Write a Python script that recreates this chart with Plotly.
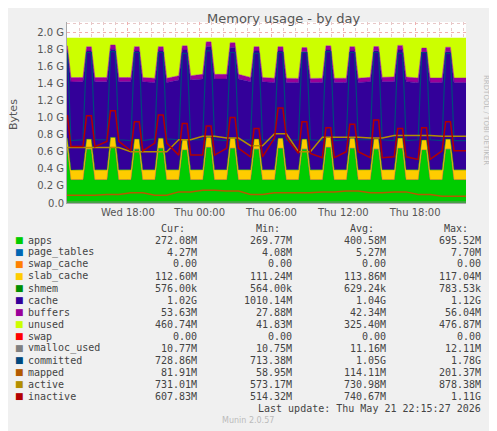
import pandas as pd
import plotly.graph_objects as go

# spike times (every ~2h)
peaks = ["2026-05-20 12:45", "2026-05-20 14:45", "2026-05-20 16:45", "2026-05-20 18:45",
         "2026-05-20 20:45", "2026-05-20 22:45", "2026-05-21 00:45", "2026-05-21 02:45",
         "2026-05-21 04:45", "2026-05-21 06:45", "2026-05-21 08:45", "2026-05-21 10:45",
         "2026-05-21 12:45", "2026-05-21 14:45", "2026-05-21 16:45", "2026-05-21 18:45",
         "2026-05-21 20:45"]
t_start = "2026-05-20 12:55"
t_end = "2026-05-21 22:15"

# values in G, per cycle: [base, peak]
apps_base = [0.27, 0.27, 0.27, 0.27, 0.27, 0.27, 0.27, 0.27, 0.27, 0.27, 0.27, 0.27, 0.27, 0.27, 0.27, 0.27, 0.27]
apps_peak = [0.64, 0.63, 0.65, 0.63, 0.64, 0.62, 0.65, 0.64, 0.63, 0.64, 0.63, 0.65, 0.64, 0.63, 0.64, 0.62, 0.63]
page_tables = [0.004] * 17
slab_cache = [0.112, 0.113, 0.113, 0.114, 0.114, 0.114, 0.115, 0.115, 0.114, 0.114, 0.113, 0.114, 0.114, 0.115, 0.115, 0.113, 0.113]
shmem = [0.0006] * 17
cache = [1.03, 1.03, 1.03, 1.03, 1.02, 1.05, 1.06, 1.06, 1.03, 1.02, 1.02, 1.02, 1.02, 1.03, 1.03, 1.02, 1.02]
buffers = [0.05, 0.05, 0.05, 0.05, 0.05, 0.05, 0.055, 0.055, 0.05, 0.05, 0.05, 0.05, 0.05, 0.05, 0.054, 0.054, 0.054]
total_mem = 1.93

committed_base = [0.73, 0.74, 0.74, 0.73, 0.75, 0.74, 0.74, 0.73, 0.74, 0.73, 0.74, 0.73, 0.74, 0.74, 0.73, 0.74, 0.73]
committed_peak = [1.75, 1.76, 1.77, 1.76, 1.76, 1.75, 1.78, 1.76, 1.75, 1.76, 1.76, 1.77, 1.76, 1.76, 1.75, 1.76, 1.75]
inactive_base = [0.66, 0.66, 0.72, 0.61, 0.70, 0.56, 0.56, 0.64, 0.54, 0.76, 0.58, 0.53, 0.60, 0.53, 0.54, 0.51, 0.61]
inactive_peak = [1.02, 1.02, 1.08, 0.95, 1.03, 0.93, 0.90, 1.00, 0.87, 1.11, 0.95, 0.88, 0.92, 0.97, 0.87, 0.88, 0.95]
active = [0.65, 0.65, 0.65, 0.60, 0.60, 0.74, 0.78, 0.76, 0.67, 0.81, 0.60, 0.77, 0.77, 0.76, 0.79, 0.79, 0.78]
mapped = [0.09, 0.09, 0.10, 0.12, 0.09, 0.13, 0.15, 0.14, 0.10, 0.12, 0.12, 0.13, 0.14, 0.12, 0.13, 0.10, 0.08]
vmalloc = [0.011] * 17

legend = [
    ("apps", "#00CC00", "272.08M", "269.77M", "400.58M", "695.52M"),
    ("page_tables", "#0066B3", "4.27M", "4.08M", "5.27M", "7.70M"),
    ("swap_cache", "#FF8000", "0.00", "0.00", "0.00", "0.00"),
    ("slab_cache", "#FFCC00", "112.60M", "111.24M", "113.86M", "117.04M"),
    ("shmem", "#008F00", "576.00k", "564.00k", "629.24k", "783.53k"),
    ("cache", "#330099", "1.02G", "1010.14M", "1.04G", "1.12G"),
    ("buffers", "#990099", "53.63M", "27.88M", "42.34M", "56.04M"),
    ("unused", "#CCFF00", "460.74M", "41.83M", "325.40M", "476.87M"),
    ("swap", "#FF0000", "0.00", "0.00", "0.00", "0.00"),
    ("vmalloc_used", "#808080", "10.77M", "10.75M", "11.16M", "12.11M"),
    ("committed", "#00487D", "728.86M", "713.38M", "1.05G", "1.78G"),
    ("mapped", "#B35A00", "81.91M", "58.95M", "114.11M", "201.37M"),
    ("active", "#B38F00", "731.01M", "573.17M", "730.98M", "878.38M"),
    ("inactive", "#B30000", "607.83M", "514.32M", "740.67M", "1.11G"),
]
colors = {row[0]: row[1] for row in legend}

# expand each cycle into base / rise / hold / fall points
times = []
idx = []
for i, p in enumerate(peaks):
    pt = pd.Timestamp(p)
    for off, hi in [(-30, 0), (-12, 1), (12, 1), (30, 0)]:
        times.append(pt + pd.Timedelta(minutes=off))
        idx.append((i, hi))
times.append(pd.Timestamp(t_end))
idx.append((len(peaks) - 1, 0))


def series(base, peak=None):
    return [(peak[i] if (hi and peak) else base[i]) for i, hi in idx]


stack = [
    ("apps", series(apps_base, apps_peak)),
    ("page_tables", series(page_tables)),
    ("swap_cache", [0] * len(idx)),
    ("slab_cache", series(slab_cache)),
    ("shmem", series(shmem)),
    ("cache", series(cache)),
    ("buffers", series(buffers)),
]
used = [sum(s[1][k] for s in stack) for k in range(len(idx))]
stack.append(("unused", [total_mem - u for u in used]))

fig = go.Figure()
for name, vals in stack:
    fig.add_trace(go.Scatter(x=times, y=vals, mode="lines", stackgroup="mem",
                             line=dict(width=0.5, color=colors[name]),
                             fillcolor=colors[name], name=name))

lines = [
    ("vmalloc_used", series(vmalloc), 1),
    ("committed", series(committed_base, committed_peak), 1.2),
    ("mapped", series(mapped), 1.5),
    ("active", series(active), 1.5),
    ("inactive", series(inactive_base, inactive_peak), 1.5),
]
for name, vals, w in lines:
    fig.add_trace(go.Scatter(x=times, y=vals, mode="lines", line=dict(width=w, color=colors[name]),
                             name=name))

# page is offset by the 8px body margin, so shift everything up-left by 8
S = 8
L, R, T, B = 67 - S, 466 - S, 22 - S, 203 - S


def px(x):
    return (x - S - L) / (R - L)


def py(y):
    return (B - (y - S)) / (B - T)


ann = [
    dict(x=px(283), y=py(18), text="Memory usage - by day", font=dict(size=13, color="#555555")),
    dict(x=px(13), y=py(115), text="Bytes", textangle=-90, font=dict(size=11, color="#555555")),
    dict(x=px(486), y=py(120), text="RRDTOOL / TOBI OETIKER", textangle=90, font=dict(size=7, color="#BBBBBB")),
]
mono = "DejaVu Sans Mono"
for col, xr in zip(["Cur:", "Min:", "Avg:", "Max:"], [187, 282, 376, 470]):
    ann.append(dict(x=px(xr), y=py(228), text=col, xanchor="right", font=dict(family=mono, size=10, color="#444")))
for r, (name, c, *vals) in enumerate(legend):
    yy = py(240 + 12 * r)
    ann.append(dict(x=px(13), y=yy, text="■", xanchor="left", font=dict(size=9, color=c)))
    ann.append(dict(x=px(26), y=yy, text=name, xanchor="left", font=dict(family=mono, size=10, color="#444")))
    for v, xr in zip(vals, [199, 294, 388, 483]):
        ann.append(dict(x=px(xr), y=yy, text=v, xanchor="right", font=dict(family=mono, size=10, color="#444")))
ann.append(dict(x=px(483), y=py(408), text="Last update: Thu May 21 22:15:27 2026", xanchor="right",
                font=dict(family=mono, size=10, color="#444")))
ann.append(dict(x=px(248), y=py(420), text="Munin 2.0.57", font=dict(size=8, color="#BBBBBB")))
for a in ann:
    a.update(xref="paper", yref="paper", showarrow=False)
    a.setdefault("xanchor", "center")
    a["yanchor"] = "middle"

ticks_y = [0, 0.2, 0.4, 0.6, 0.8, 1.0, 1.2, 1.4, 1.6, 1.8, 2.0]
fig.update_layout(
    width=497, height=431, margin=dict(l=L, r=497 - R, t=T, b=431 - B),
    paper_bgcolor="#F0F0F0", plot_bgcolor="#FFFFFF", showlegend=False,
    font=dict(family="DejaVu Sans", size=10, color="#555555"),
    annotations=ann,
    xaxis=dict(range=[pd.Timestamp(t_start), pd.Timestamp(t_end)],
               tickvals=["2026-05-20 18:00", "2026-05-21 00:00", "2026-05-21 06:00",
                         "2026-05-21 12:00", "2026-05-21 18:00"],
               ticktext=["Wed 18:00", "Thu 00:00", "Thu 06:00", "Thu 12:00", "Thu 18:00"],
               showgrid=True, gridcolor="#F0B0B0", griddash="dot", ticks="", ticklen=0,
               minor=dict(dtick=3600000, showgrid=True, gridcolor="#E8C8C8", griddash="dot"),
               showline=True, linecolor="#AAAAAA", zeroline=False),
    yaxis=dict(range=[0, 2.117], tickvals=ticks_y,
               ticktext=["0.0"] + [f"{v:.1f} G" for v in ticks_y[1:]],
               showgrid=True, gridcolor="#F0B0B0", griddash="dot",
               minor=dict(dtick=0.1, showgrid=True, gridcolor="#E8C8C8", griddash="dot"),
               zeroline=False, showline=True, linecolor="#AAAAAA"),
)
fig.write_html("out.html")
